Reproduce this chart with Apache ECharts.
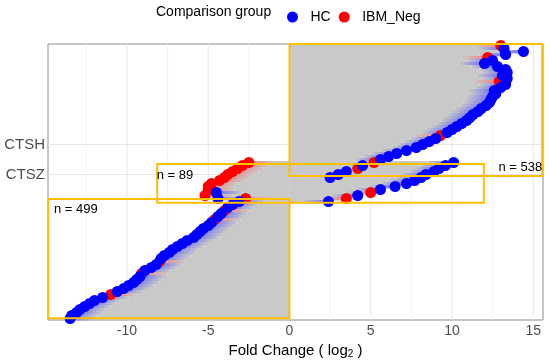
<!DOCTYPE html>
<html><head><meta charset="utf-8">
<script src="https://cdn.jsdelivr.net/npm/echarts@6/dist/echarts.min.js"></script>
<style>html,body{margin:0;padding:0;background:#fff}#c{width:550px;height:360px}</style>
</head><body><div id="c"></div>
<script>
// ---- axis / tick data ----
const xTicks = [-10, -5, 0, 5, 10, 15];
const xMajorGrid = [-10, -5, 0, 5, 10, 15];
const xMinorGrid = [-12.5, -7.5, -2.5, 2.5, 7.5, 12.5];
const xRange = [-14.86, 15.6];
const rowCount = 92;
const yLabelNames = ['CTSH', 'CTSZ'];
const yLabelRows = [33, 43];

// ---- series values (log2 fold change per row) ----
const topStart = 0;
const topPos = [13.0, 13.2, 14.4, 13.3, 12.2, 12.5, 12.0, 12.8, 13.3, 13.4, 13.1, 13.4, 12.9, 13.3, 13.0,
  12.6, 12.7, 12.5, 12.4, 12.3, 12.1, 11.8, 11.6, 11.3, 11.1, 10.9, 10.6, 10.3, 10.0, 9.7,
  9.3, 9.0, 8.6, 8.2, 7.8, 7.2, 6.6, 6.1, 5.6, 5.2, 4.5, 4.2, 3.5, 3.0, 2.5];
const topNegGroupRows = [0, 4, 12, 30, 39, 41];

const midPosStart = 39;
const midPos = [10.1, 9.6, 9.2, 8.9, 8.4, 8.1, 7.7, 7.2, 6.5, 5.6, 5.0, 4.2, 3.5, 2.4];
const midPosNegGroupRows = [49, 51];

const midNegStart = 39;
const midNeg = [-2.5, -2.9, -3.2, -3.5, -3.8, -4.0, -4.3, -4.8, -5.0, -5.0, -4.5, -5.2, -4.4];
const midNegHcRows = [49, 51];

const botStart = 51;
const botNeg = [-2.7, -3.1, -3.5, -3.8, -4.0, -4.2, -4.4, -4.6, -4.8, -5.0,
  -5.3, -5.5, -5.7, -5.9, -6.3, -6.6, -6.9, -7.2, -7.4, -7.7,
  -7.9, -8.0, -8.2, -8.5, -8.9, -9.1, -9.2, -9.4, -9.6, -9.9,
  -10.2, -10.6, -11.0, -11.5, -12.0, -12.3, -12.6, -12.9, -13.1, -13.4, -13.5];
const botNegGroupRows = [51, 55, 58, 72, 76, 83];

// ---- annotation boxes [x1, row1, x2, row2] and labels ----
const boxes = [[0, 0, 15.55, 44], [-8.14, 40, 11.96, 52.9], [-14.84, 51.7, 0, 91.4]];
const boxLabels = ['n = 538', 'n = 89', 'n = 499'];
const boxLabelPos = [[14.2, 41.3], [-7.05, 43.7], [-13.15, 55.3]];

// ---- build segments [value, row, group(0=HC,1=IBM_Neg)] ----
const segs = [];
function addRegion(start, vals, isNeg) {
  vals.forEach((v, i) => { const r = start + i; segs.push([v, r, isNeg(r) ? 1 : 0]); });
}
addRegion(topStart, topPos, r => topNegGroupRows.includes(r));
addRegion(midPosStart, midPos, r => midPosNegGroupRows.includes(r));
addRegion(midNegStart, midNeg, r => !midNegHcRows.includes(r));
addRegion(botStart, botNeg, r => botNegGroupRows.includes(r));

const hcPts = segs.filter(s => s[2] === 0).map(s => [s[0], s[1] + 0.5]);
const negPts = segs.filter(s => s[2] === 1).map(s => [s[0], s[1] + 0.5]);

const FONT = 'Liberation Sans, Arial, sans-serif';
const gray = '#c9c9c9';
const blue = '#0000ff', red = '#ff0000';
const gold = '#FFC000';

const chart = echarts.init(document.getElementById('c'), null, {renderer: 'canvas'});

const gridLineData = xMajorGrid.map(v => [v, 0, 1]).concat(xMinorGrid.map(v => [v, 0, 0]));

chart.setOption({
  animation: false,
  backgroundColor: '#fff',
  textStyle: {fontFamily: FONT},
  title: {text: 'Comparison group', left: 156, top: 5, padding: 0,
    textStyle: {fontSize: 14, fontWeight: 'normal', color: '#000', fontFamily: FONT}},
  legend: {data: ['HC', 'IBM_Neg'], icon: 'circle', itemWidth: 26, itemHeight: 11, itemGap: 8,
    left: 282, top: 5, textStyle: {fontSize: 14, color: '#000', fontFamily: FONT}},
  grid: {left: 48, right: 7, top: 44, bottom: 40, show: true, borderColor: '#8c8c8c', borderWidth: 1,
    backgroundColor: 'transparent', outerBoundsMode: 'none', containLabel: false},
  xAxis: {type: 'value', min: xRange[0], max: xRange[1],
    axisLine: {show: false}, axisTick: {show: false}, splitLine: {show: false},
    axisLabel: {customValues: xTicks, fontSize: 14, color: '#4d4d4d', margin: 4, fontFamily: FONT},
    name: 'Fold Change ( log{sub|2} )', nameLocation: 'middle', nameGap: 21,
    nameTextStyle: {fontSize: 15, color: '#000', fontFamily: FONT,
      rich: {sub: {fontSize: 10, verticalAlign: 'bottom', padding: [8, 0, 0, 0], color: '#000'}}}},
  yAxis: {type: 'value', min: 0, max: rowCount, inverse: true,
    axisLine: {show: false}, axisTick: {show: false}, splitLine: {show: false},
    axisLabel: {customValues: yLabelRows.map(r => r + 0.5), fontSize: 15, color: '#4d4d4d', margin: 3,
      fontFamily: FONT,
      formatter: v => { const i = yLabelRows.findIndex(r => Math.abs(r + 0.5 - v) < 1e-6); return i >= 0 ? yLabelNames[i] : ''; }}},
  series: [
    { // vertical grid lines
      type: 'custom', silent: true, z: 1, data: gridLineData, encode: {x: 0, y: 1},
      renderItem: (p, api) => {
        const a = api.coord([api.value(0), 0]), b = api.coord([api.value(0), rowCount]);
        return {type: 'line', shape: {x1: a[0], y1: a[1], x2: b[0], y2: b[1]},
          style: {stroke: api.value(2) ? '#e6e6e6' : '#f2f2f2', lineWidth: 1}};
      }
    },
    { // horizontal grid lines at labelled rows
      type: 'custom', silent: true, z: 1, data: yLabelRows.map(r => [0, r + 0.5]), encode: {x: 0, y: 1},
      renderItem: (p, api) => {
        const a = api.coord([xRange[0], api.value(1)]), b = api.coord([xRange[1], api.value(1)]);
        return {type: 'line', shape: {x1: a[0], y1: a[1], x2: b[0], y2: b[1]},
          style: {stroke: '#e6e6e6', lineWidth: 1}};
      }
    },
    { // segments
      type: 'custom', silent: true, z: 2, data: segs, encode: {x: 0, y: 1},
      renderItem: (p, api) => {
        const v = api.value(0), r = api.value(1), g = api.value(2);
        const a = api.coord([0, r]), b = api.coord([v, r + 1]);
        const y = Math.min(a[1], b[1]), h = Math.abs(b[1] - a[1]) + 0.4;
        const len = Math.abs(b[0] - a[0]);
        const dir = v >= 0 ? 1 : -1;
        const tint = Math.min(26, len);
        const grayEnd = a[0] + dir * (len - tint);
        const tintColor = g ? '#f07a7a' : '#6a6af2';
        return {type: 'group', children: [
          {type: 'rect', shape: {x: Math.min(a[0], grayEnd), y: y, width: len - tint, height: h}, style: {fill: gray}},
          {type: 'rect', shape: {x: Math.min(grayEnd, b[0]), y: y, width: tint, height: h},
            style: {fill: new echarts.graphic.LinearGradient(dir > 0 ? 0 : 1, 0, dir > 0 ? 1 : 0, 0,
              [{offset: 0, color: gray}, {offset: 1, color: tintColor}])}}
        ]};
      }
    },
    {name: 'IBM_Neg', type: 'scatter', z: 3, data: negPts, symbolSize: 11, itemStyle: {color: red, opacity: 1}, silent: true},
    {name: 'HC', type: 'scatter', z: 4, data: hcPts, symbolSize: 11, itemStyle: {color: blue, opacity: 1}, silent: true},
    { // annotation boxes
      type: 'custom', silent: true, z: 5, data: boxes.map((b, i) => b.concat([i])), encode: {x: [0, 2], y: [1, 3]},
      renderItem: (p, api) => {
        const a = api.coord([api.value(0), api.value(1)]), b = api.coord([api.value(2), api.value(3)]);
        const i = api.value(4);
        const lp = api.coord(boxLabelPos[i]);
        return {type: 'group', children: [
          {type: 'rect', shape: {x: Math.min(a[0], b[0]), y: Math.min(a[1], b[1]), width: Math.abs(b[0] - a[0]), height: Math.abs(b[1] - a[1])},
            style: {fill: 'none', stroke: gold, lineWidth: 2}},
          {type: 'text', x: lp[0], y: lp[1], style: {text: boxLabels[i], fill: '#000', fontSize: 13, fontFamily: FONT,
            align: 'center', verticalAlign: 'middle'}}
        ]};
      }
    }
  ]
});
</script></body></html>
